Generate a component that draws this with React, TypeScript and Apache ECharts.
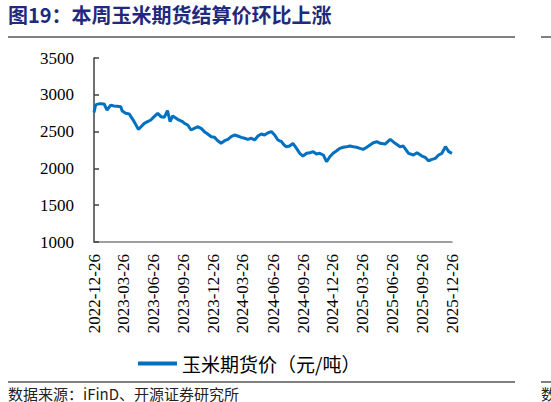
import React, { useEffect, useRef } from "react";
import * as echarts from "echarts";

const title = "图19：本周玉米期货结算价环比上涨";
const source = "数据来源：iFinD、开源证券研究所";
const seriesName = "玉米期货价（元/吨）";

const dates = [
  "2022-12-26", "2022-12-31", "2023-01-04", "2023-01-13", "2023-01-26", "2023-02-04", "2023-02-15", "2023-02-25",
  "2023-03-07", "2023-03-18", "2023-03-22", "2023-04-02", "2023-04-13", "2023-04-18", "2023-04-28", "2023-05-11",
  "2023-05-19", "2023-05-29", "2023-06-08", "2023-06-18", "2023-06-28", "2023-07-09", "2023-07-19", "2023-07-29",
  "2023-08-08", "2023-08-16", "2023-08-24", "2023-09-08", "2023-09-23", "2023-09-29", "2023-10-09", "2023-10-19",
  "2023-10-29", "2023-11-08", "2023-11-19", "2023-11-29", "2023-12-09", "2023-12-20", "2023-12-30", "2024-01-09",
  "2024-01-19", "2024-01-30", "2024-02-09", "2024-02-19", "2024-02-29", "2024-03-10", "2024-03-21", "2024-03-31",
  "2024-04-10", "2024-04-21", "2024-05-01", "2024-05-11", "2024-05-21", "2024-05-31", "2024-06-11", "2024-06-21",
  "2024-07-01", "2024-07-11", "2024-07-22", "2024-07-30", "2024-08-06", "2024-08-16", "2024-08-26", "2024-09-06",
  "2024-09-16", "2024-09-26", "2024-10-07", "2024-10-17", "2024-10-27", "2024-11-06", "2024-11-16", "2024-11-27",
  "2024-12-07", "2024-12-17", "2024-12-27", "2025-01-07", "2025-01-17", "2025-01-27", "2025-02-06", "2025-02-17",
  "2025-02-27", "2025-03-09", "2025-03-19", "2025-03-29", "2025-04-09", "2025-04-19", "2025-04-29", "2025-05-10",
  "2025-05-20", "2025-06-04", "2025-06-20", "2025-07-05", "2025-07-20", "2025-07-30", "2025-08-15", "2025-08-30",
  "2025-09-10", "2025-09-25", "2025-10-05", "2025-10-15", "2025-10-26", "2025-11-05", "2025-11-15", "2025-11-25",
  "2025-12-06", "2025-12-16", "2025-12-26",
];

const prices = [
  2760, 2861, 2870, 2880, 2875, 2793, 2860, 2848,
  2845, 2838, 2784, 2748, 2739, 2703, 2635, 2530,
  2566, 2612, 2635, 2658, 2703, 2748, 2703, 2694,
  2784, 2635, 2712, 2667, 2635, 2612, 2590, 2522,
  2544, 2566, 2544, 2499, 2467, 2431, 2422, 2376,
  2341, 2376, 2395, 2431, 2454, 2440, 2422, 2409,
  2395, 2409, 2386, 2440, 2467, 2454, 2485, 2499,
  2454, 2386, 2363, 2318, 2295, 2304, 2341, 2273,
  2205, 2168, 2205, 2213, 2227, 2196, 2205, 2182,
  2091, 2159, 2205, 2240, 2273, 2287, 2295, 2304,
  2295, 2287, 2273, 2259, 2287, 2318, 2349, 2363,
  2341, 2331, 2395, 2341, 2295, 2304, 2205, 2182,
  2213, 2168, 2150, 2104, 2123, 2136, 2182, 2205,
  2295, 2227, 2205,
];

const tickDates = [
  "2022-12-26", "2023-03-26", "2023-06-26", "2023-09-26", "2023-12-26", "2024-03-26", "2024-06-26",
  "2024-09-26", "2024-12-26", "2025-03-26", "2025-06-26", "2025-09-26", "2025-12-26",
];

const yMin = 1000;
const yMax = 3500;
const yStep = 500;

function toTs(s: string): number {
  const [y, m, d] = s.split("-").map(Number);
  return Date.UTC(y, m - 1, d);
}
function pad(n: number): string {
  return n < 10 ? "0" + n : "" + n;
}
function fmt(ts: number): string {
  const d = new Date(ts);
  return d.getUTCFullYear() + "-" + pad(d.getUTCMonth() + 1) + "-" + pad(d.getUTCDate());
}

const SERIF = '"Times New Roman", "Liberation Serif", serif';
const CJK = "Noto Sans CJK SC";

export default function App() {
  const ref = useRef<HTMLDivElement>(null);
  useEffect(() => {
    if (!ref.current) return;
    const chart = echarts.init(ref.current, null, { renderer: "svg" });
    const tickTs = tickDates.map(toTs);
    chart.setOption({
      animation: false,
      backgroundColor: "#ffffff",
      grid: { left: 94, right: 99, top: 58, bottom: 160, containLabel: false },
      legend: {
        left: 133,
        top: 349,
        icon: "rect",
        itemWidth: 39,
        itemHeight: 4,
        textStyle: { fontFamily: CJK, fontSize: 19, color: "#000" },
        data: [seriesName],
      },
      xAxis: {
        type: "value",
        min: tickTs[0],
        max: tickTs[tickTs.length - 1],
        scale: true,
        axisLine: { show: true, lineStyle: { color: "#808080", width: 1.5 } },
        axisTick: { show: false },
        splitLine: { show: false },
        axisLabel: {
          customValues: tickTs,
          rotate: 90,
          margin: 12,
          fontFamily: SERIF,
          fontSize: 17,
          color: "#000",
          formatter: (v: number) => fmt(v),
        },
      },
      yAxis: {
        type: "value",
        min: yMin,
        max: yMax,
        interval: yStep,
        axisLine: { show: true, lineStyle: { color: "#404040", width: 1.5 } },
        axisTick: { show: true, inside: true, length: 5, lineStyle: { color: "#404040", width: 1.5 } },
        splitLine: { show: false },
        axisLabel: {
          fontFamily: SERIF,
          fontSize: 17,
          color: "#000",
          margin: 20,
          formatter: (v: number) => String(v),
        },
      },
      series: [
        {
          name: seriesName,
          type: "line",
          data: dates.map((d, i) => [toTs(d), prices[i]]),
          showSymbol: false,
          symbol: "none",
          color: "#0070C0",
          lineStyle: { color: "#0070C0", width: 3 },
        },
      ],
      graphic: [
        {
          type: "text",
          left: 8,
          top: 4,
          style: { text: title, fontFamily: CJK, fontWeight: "bold", fontSize: 20, fill: "#1F2A7C" },
        },
        { type: "line", shape: { x1: 8, y1: 37, x2: 515, y2: 37 }, style: { stroke: "#808080", lineWidth: 2 } },
        { type: "line", shape: { x1: 541, y1: 37, x2: 551, y2: 37 }, style: { stroke: "#808080", lineWidth: 2 } },
        { type: "line", shape: { x1: 8, y1: 382, x2: 515, y2: 382 }, style: { stroke: "#808080", lineWidth: 2 } },
        { type: "line", shape: { x1: 541, y1: 382, x2: 551, y2: 382 }, style: { stroke: "#808080", lineWidth: 2 } },
        {
          type: "text",
          x: 8,
          y: 393,
          style: { text: source, fontFamily: CJK, fontSize: 15, fill: "#222", verticalAlign: "middle" },
        },
        {
          type: "text",
          x: 541,
          y: 393,
          style: { text: "数", fontFamily: CJK, fontSize: 15, fill: "#222", verticalAlign: "middle" },
        },
      ],
    });
    return () => chart.dispose();
  }, []);
  return (
    <div
      ref={ref}
      style={{ position: "fixed", left: 0, top: 0, width: 551, height: 402, background: "#fff" }}
    />
  );
}
